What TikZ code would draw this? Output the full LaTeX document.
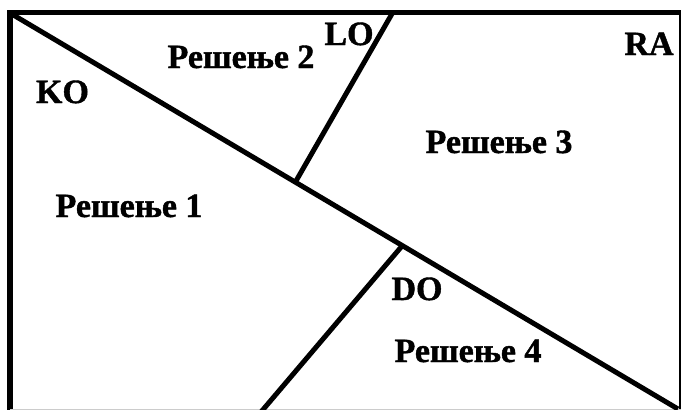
\documentclass[tikz,border=0pt]{standalone}
\usepackage{fontspec}
\setmainfont{Liberation Serif}[BoldFeatures={FakeBold=1.2}]
\begin{document}
\begin{tikzpicture}[x=1pt,y=-1pt,
  lbl/.style={font=\fontsize{34}{40}\selectfont\bfseries, inner sep=0pt, anchor=base},
  edge/.style={line width=5pt, black}]
\clip (0,0) rectangle (681,410);
\fill[white] (0,0) rectangle (681,410);
% frame
\coordinate (tl) at (10,12.5);
\coordinate (tr) at (681.5,12.5);
\coordinate (br) at (681.5,414);
\coordinate (bl) at (10,414);
\draw[line width=5.5pt, line join=miter] (tl) -- (tr) -- (br) -- (bl) -- cycle;
\draw[gray!40, line width=1pt] (10,409.5) -- (681,409.5);
% lines
\coordinate (d1) at (10,13);
\coordinate (d2) at (678,409);
\draw[edge] (d1) -- (d2);
\coordinate (lotop) at (393,12);
\coordinate (lobot) at (296,181);
\draw[edge] (lotop) -- (lobot);
\coordinate (dotop) at (402,246);
\coordinate (dobot) at (261,412);
\draw[edge] (dotop) -- (dobot);
% labels
\node[lbl] (ko) at (62.5,103) {KO};
\node[lbl] (r1) at (129,217) {Решење 1};
\node[lbl] (r2) at (241,68) {Решење 2};
\node[lbl] (lo) at (349,45) {LO};
\node[lbl] (ra) at (649,55) {RA};
\node[lbl] (r3) at (499,153) {Решење 3};
\node[lbl] (do) at (417,300) {DO};
\node[lbl] (r4) at (468,362) {Решење 4};
\end{tikzpicture}
\end{document}
